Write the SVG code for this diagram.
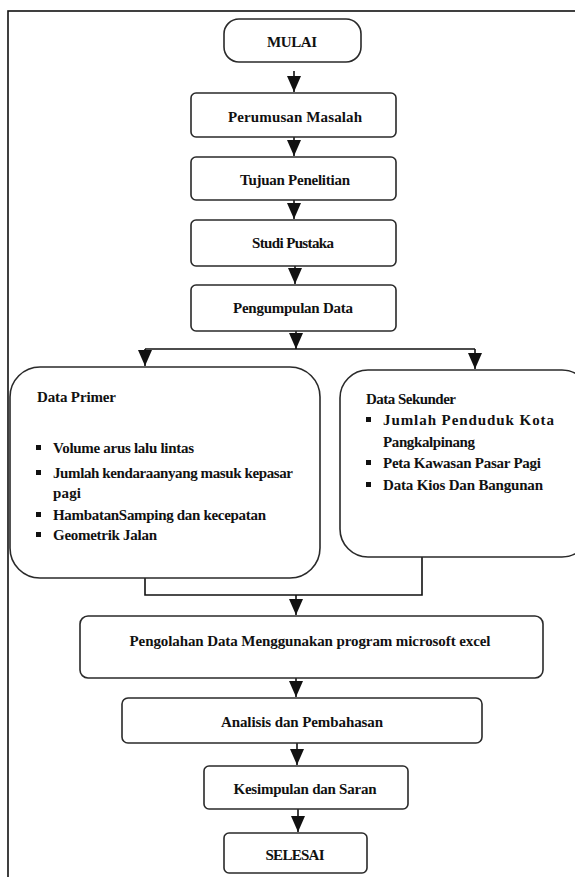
<svg xmlns="http://www.w3.org/2000/svg" width="575" height="877" viewBox="0 0 575 877">
<defs>
<marker id="ah" markerUnits="userSpaceOnUse" markerWidth="17" markerHeight="14" refX="16" refY="7" orient="auto" viewBox="0 0 17 14">
<path d="M0,0 L16,7 L0,14 Z" fill="#111"/>
</marker>
<style>
.b{fill:#fff;stroke:#2a2a2a;stroke-width:1.6}
.t{font-family:"Liberation Serif","Times New Roman",serif;font-size:15px;font-weight:bold;fill:#111}
.c{text-anchor:middle}
.l{fill:none;stroke:#111;stroke-width:1.6}
</style>
</defs>
<rect x="0" y="0" width="575" height="877" fill="#fff"/>
<rect x="8" y="11" width="600" height="900" fill="none" stroke="#111" stroke-width="1.6"/>
<g id="connectors">
<path class="l" d="M294,71 V92" marker-end="url(#ah)"/>
<path class="l" d="M294,137 V156" marker-end="url(#ah)"/>
<path class="l" d="M294,200 V219" marker-end="url(#ah)"/>
<path class="l" d="M295,266 V284" marker-end="url(#ah)"/>
<path class="l" d="M296,331 V349" marker-end="url(#ah)"/>
<path class="l" d="M145,349 H475"/>
<path class="l" d="M145,349 V366" marker-end="url(#ah)"/>
<path class="l" d="M475,349 V369" marker-end="url(#ah)"/>
<path class="l" d="M145,578 V595 H422 V557"/>
<path class="l" d="M296,595 V615" marker-end="url(#ah)"/>
<path class="l" d="M296,678 V697" marker-end="url(#ah)"/>
<path class="l" d="M297,743 V765" marker-end="url(#ah)"/>
<path class="l" d="M298,809 V832" marker-end="url(#ah)"/>
</g>
<g id="mulai"><rect class="b" x="224" y="19" width="137" height="43" rx="15"/><text class="t c" x="292" y="47" textLength="50">MULAI</text></g>
<g id="perumusan"><rect class="b" x="191" y="93" width="205" height="44" rx="5"/><text class="t c" x="295" y="122" textLength="134">Perumusan Masalah</text></g>
<g id="tujuan"><rect class="b" x="191" y="157" width="205" height="43" rx="5"/><text class="t c" x="295" y="185" textLength="110">Tujuan Penelitian</text></g>
<g id="studi"><rect class="b" x="191" y="220" width="205" height="46" rx="5"/><text class="t c" x="293" y="248" textLength="82">Studi Pustaka</text></g>
<g id="pengumpulan"><rect class="b" x="191" y="285" width="205" height="46" rx="5"/><text class="t c" x="293" y="313" textLength="120">Pengumpulan Data</text></g>
<g id="primer"><rect class="b" x="10" y="367" width="310" height="211" rx="30"/>
<text class="t" x="37" y="402" textLength="79">Data Primer</text>
<rect x="36" y="445" width="5" height="5" fill="#111"/><text class="t" x="53" y="453" textLength="141">Volume arus lalu lintas</text>
<rect x="36" y="470" width="5" height="5" fill="#111"/><text class="t" x="53" y="478" textLength="240">Jumlah kendaraanyang masuk kepasar</text>
<text class="t" x="53" y="498" textLength="28">pagi</text>
<rect x="36" y="512" width="5" height="5" fill="#111"/><text class="t" x="53" y="520" textLength="213">HambatanSamping dan kecepatan</text>
<rect x="36" y="532" width="5" height="5" fill="#111"/><text class="t" x="53" y="540" textLength="104">Geometrik Jalan</text>
</g>
<g id="sekunder"><rect class="b" x="340" y="370" width="250" height="187" rx="28"/>
<text class="t" x="366" y="404" textLength="90">Data Sekunder</text>
<rect x="366" y="417" width="5" height="5" fill="#111"/><text class="t" x="383" y="425" textLength="171">Jumlah  Penduduk  Kota</text>
<text class="t" x="383" y="447" textLength="92">Pangkalpinang</text>
<rect x="366" y="460" width="5" height="5" fill="#111"/><text class="t" x="383" y="468" textLength="158">Peta Kawasan Pasar Pagi</text>
<rect x="366" y="482" width="5" height="5" fill="#111"/><text class="t" x="383" y="490" textLength="160">Data Kios Dan Bangunan</text>
</g>
<g id="pengolahan"><rect class="b" x="80" y="616" width="463" height="62" rx="8"/><text class="t c" x="310" y="646" textLength="361">Pengolahan Data Menggunakan program microsoft excel</text></g>
<g id="analisis"><rect class="b" x="122" y="698" width="360" height="45" rx="6"/><text class="t c" x="302" y="727" textLength="162">Analisis dan Pembahasan</text></g>
<g id="kesimpulan"><rect class="b" x="204" y="766" width="204" height="43" rx="5"/><text class="t c" x="305" y="794" textLength="143">Kesimpulan dan Saran</text></g>
<g id="selesai"><rect class="b" x="224" y="833" width="143" height="40" rx="5"/><text class="t c" x="295" y="860" textLength="59">SELESAI</text></g>
</svg>
